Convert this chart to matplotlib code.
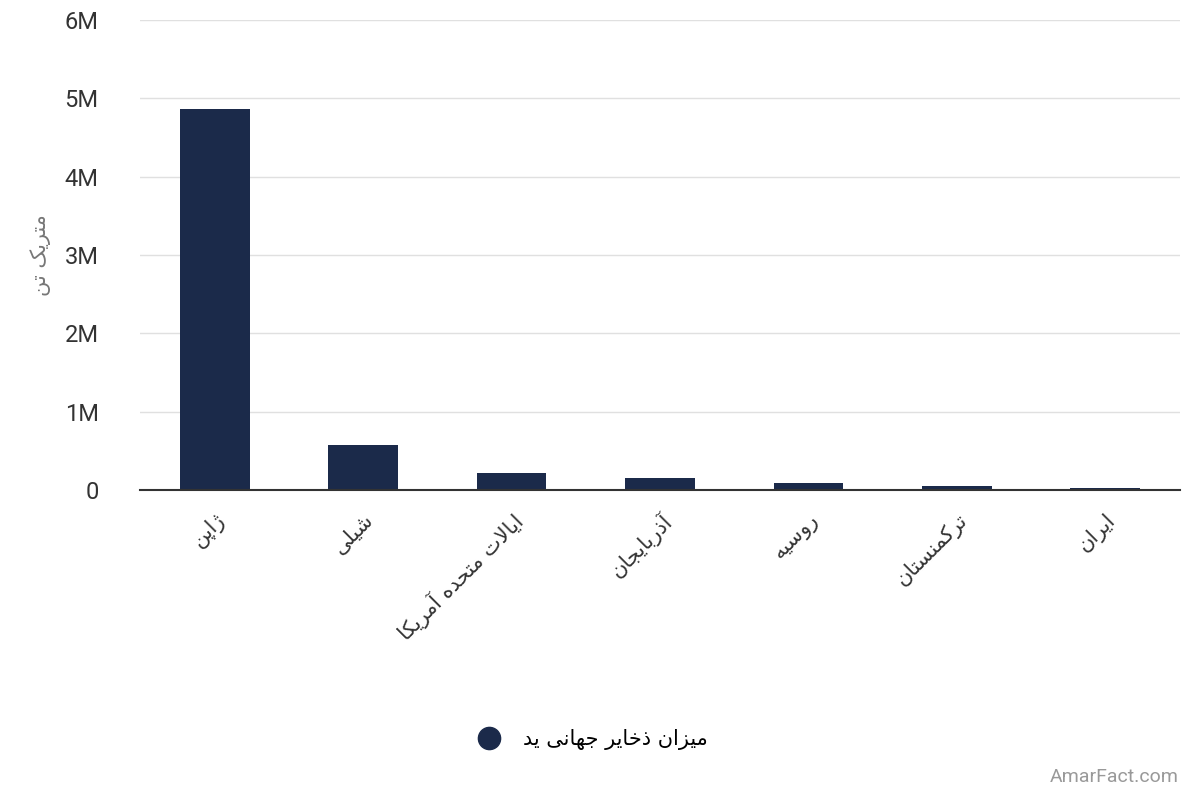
import matplotlib
matplotlib.use("Agg")
import matplotlib.pyplot as plt
from matplotlib.lines import Line2D

plt.rcParams['font.family'] = ['Roboto', 'DejaVu Sans']

categories = ["ژاپن", "شیلی", "ایالات متحده آمریکا", "آذربایجان", "روسیه", "ترکمنستان", "ایران"]
values = [4870000, 580000, 220000, 150000, 90000, 45000, 20000]
series_name = "میزان ذخایر جهانی ید"
y_label = "متریک تن"
y_ticks = [0, 1e6, 2e6, 3e6, 4e6, 5e6, 6e6]
y_tick_labels = ["0", "1M", "2M", "3M", "4M", "5M", "6M"]

# minimal Persian shaping (presentation forms) + RTL reversal
FORMS = {
    'ا': (0xFE8D, 0xFE8E, None, None), 'آ': (0xFE81, 0xFE82, None, None),
    'ب': (0xFE8F, 0xFE90, 0xFE91, 0xFE92), 'ت': (0xFE95, 0xFE96, 0xFE97, 0xFE98),
    'ج': (0xFE9D, 0xFE9E, 0xFE9F, 0xFEA0), 'ح': (0xFEA1, 0xFEA2, 0xFEA3, 0xFEA4),
    'خ': (0xFEA5, 0xFEA6, 0xFEA7, 0xFEA8), 'د': (0xFEA9, 0xFEAA, None, None),
    'ذ': (0xFEAB, 0xFEAC, None, None), 'ر': (0xFEAD, 0xFEAE, None, None),
    'ز': (0xFEAF, 0xFEB0, None, None), 'س': (0xFEB1, 0xFEB2, 0xFEB3, 0xFEB4),
    'ش': (0xFEB5, 0xFEB6, 0xFEB7, 0xFEB8), 'ل': (0xFEDD, 0xFEDE, 0xFEDF, 0xFEE0),
    'م': (0xFEE1, 0xFEE2, 0xFEE3, 0xFEE4), 'ن': (0xFEE5, 0xFEE6, 0xFEE7, 0xFEE8),
    'ه': (0xFEE9, 0xFEEA, 0xFEEB, 0xFEEC), 'و': (0xFEED, 0xFEEE, None, None),
    'ی': (0xFBFC, 0xFBFD, 0xFBFE, 0xFBFF), 'ک': (0xFB8E, 0xFB8F, 0xFB90, 0xFB91),
    'پ': (0xFB56, 0xFB57, 0xFB58, 0xFB59), 'ژ': (0xFB8A, 0xFB8B, None, None),
    'LA': (0xFEFB, 0xFEFC, None, None),
}

def shape(text):
    chars = []
    i = 0
    while i < len(text):
        if text[i] == 'ل' and i + 1 < len(text) and text[i + 1] == 'ا':
            chars.append('LA'); i += 2
        else:
            chars.append(text[i]); i += 1
    out = []
    for k, c in enumerate(chars):
        if c not in FORMS:
            out.append(c); continue
        f = FORMS[c]
        prev = chars[k - 1] if k > 0 else None
        nxt = chars[k + 1] if k + 1 < len(chars) else None
        jp = prev in FORMS and FORMS[prev][2] is not None
        jn = f[2] is not None and nxt in FORMS
        if jp and jn:
            cp = f[3]
        elif jp:
            cp = f[1]
        elif jn:
            cp = f[2]
        else:
            cp = f[0]
        out.append(chr(cp))
    return ''.join(out)[::-1]

fig = plt.figure(figsize=(12, 8), dpi=100)
ax = fig.add_axes([0.117, 0.3875, 0.866, 0.5875])
bar_color = '#1b2a4a'
x = list(range(len(categories)))
ax.bar(x, values, width=0.47, color=bar_color, zorder=3)
ax.set_xlim(-0.5, len(categories) - 0.5)
ax.set_ylim(0, 6e6)
ax.set_yticks(y_ticks)
ax.set_yticklabels(y_tick_labels, fontsize=17, color='#333333')
ax.set_xticks(x)
ax.set_xticklabels([shape(c) for c in categories], rotation=45, ha='right',
                   rotation_mode='anchor', fontsize=15, color='#333333',
                   family=['DejaVu Sans'])
ax.tick_params(axis='both', length=0, pad=30)
ax.tick_params(axis='x', pad=14)
ax.grid(axis='y', color='#e0e0e0', linewidth=1, zorder=0)
for s in ['top', 'right', 'left']:
    ax.spines[s].set_visible(False)
ax.spines['bottom'].set_color('#333333')
ax.spines['bottom'].set_linewidth(1.5)
ax.spines['bottom'].set_zorder(4)
ax.set_ylabel(shape(y_label), fontsize=15, color='#777777', family=['DejaVu Sans'], labelpad=10)

handle = Line2D([], [], marker='o', linestyle='none', markersize=16, color=bar_color)
fig.legend([handle], [shape(series_name)], loc='center', bbox_to_anchor=(0.49, 0.075),
           frameon=False, prop={'family': 'DejaVu Sans', 'size': 15}, handletextpad=0.6)
fig.text(0.982, 0.018, "AmarFact.com", ha='right', va='bottom', fontsize=14, color='#999999')
fig.savefig("out.png")
